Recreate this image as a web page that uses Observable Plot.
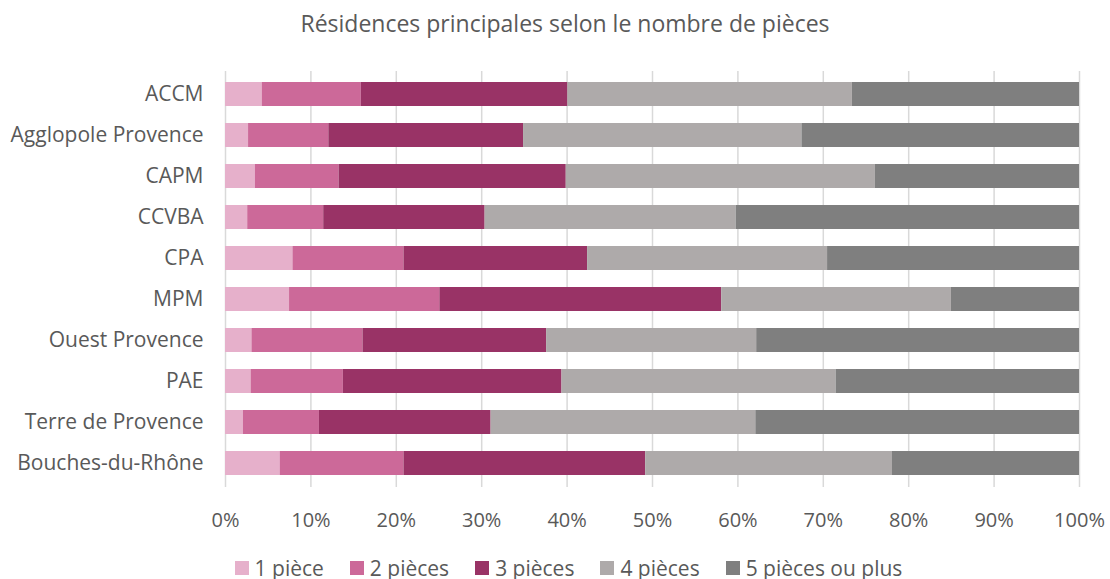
<!DOCTYPE html>
<html>
<head>
<meta charset="utf-8">
<script src="https://cdn.jsdelivr.net/npm/d3@7"></script>
<script src="https://cdn.jsdelivr.net/npm/@observablehq/plot@0.6"></script>
<style>
  html, body { margin: 0; padding: 0; background: #fff; overflow: hidden; }
  #wrap { position: relative; width: 1110px; height: 579px; font-family: "Open Sans", sans-serif; color: #595959; overflow: hidden; }
  #title { position: absolute; top: 7px; left: 0; width: 1130px; text-align: center; font-size: 23px; line-height: normal; white-space: nowrap; }
  #chart { position: absolute; top: 0; left: 0; }
  #legend { position: absolute; top: 554px; left: 0; width: 1137px; display: flex; justify-content: center; gap: 26px; font-size: 21px; line-height: normal; white-space: nowrap; }
  .item { display: flex; align-items: center; gap: 6px; }
  .sw { width: 14px; height: 14px; display: inline-block; }
</style>
</head>
<body>
<div id="wrap">
  <div id="title">Résidences principales selon le nombre de pièces</div>
  <div id="chart"></div>
  <div id="legend"></div>
</div>
<script>
const categories = ["ACCM", "Agglopole Provence", "CAPM", "CCVBA", "CPA", "MPM", "Ouest Provence", "PAE", "Terre de Provence", "Bouches-du-Rhône"];
const seriesNames = ["1 pièce", "2 pièces", "3 pièces", "4 pièces", "5 pièces ou plus"];
const p1 = [4.3, 2.7, 3.5, 2.6, 7.9, 7.5, 3.1, 3.0, 2.1, 6.4];
const p2 = [11.6, 9.4, 9.8, 8.9, 13.0, 17.6, 13.0, 10.8, 8.9, 14.5];
const p3 = [24.2, 22.8, 26.6, 18.9, 21.5, 33.0, 21.5, 25.6, 20.1, 28.3];
const p4 = [33.3, 32.6, 36.2, 29.4, 28.1, 26.9, 24.6, 32.1, 31.0, 28.9];
const p5 = [26.6, 32.5, 23.9, 40.2, 29.5, 15.0, 37.8, 28.5, 37.9, 21.9];
const xTicks = [0, 10, 20, 30, 40, 50, 60, 70, 80, 90, 100];
const colors = ["#e6b0cb", "#cc6999", "#993366", "#aeaaaa", "#7f7f7f"];

const seriesValues = [p1, p2, p3, p4, p5];
const data = [];
categories.forEach((c, i) => {
  seriesNames.forEach((s, j) => data.push({cat: c, series: s, value: seriesValues[j][i]}));
});

const chart = Plot.plot({
  width: 1110,
  height: 579,
  marginTop: 71,
  marginBottom: 92,
  marginLeft: 225,
  marginRight: 31,
  style: {fontFamily: "Open Sans, sans-serif", color: "#595959", background: "transparent", overflow: "visible"},
  x: {domain: [0, 100], ticks: xTicks, label: null},
  y: {domain: categories, paddingInner: 0.41, paddingOuter: 0.205, label: null},
  color: {domain: seriesNames, range: colors},
  marks: [
    Plot.gridX(xTicks, {stroke: "#d9d9d9", strokeOpacity: 1, strokeWidth: 1.5}),
    Plot.barX(data, Plot.stackX({x: "value", y: "cat", fill: "series", order: seriesNames})),
    Plot.axisX(xTicks, {tickSize: 0, tickPadding: 25, fontSize: 20, tickFormat: d => d + "%", fill: "#595959", label: null}),
    Plot.axisY({tickSize: 0, tickPadding: 22, fontSize: 21, fill: "#595959", label: null})
  ]
});
document.getElementById("chart").appendChild(chart);

const legend = document.getElementById("legend");
seriesNames.forEach((s, j) => {
  const it = document.createElement("div");
  it.className = "item";
  const sw = document.createElement("span");
  sw.className = "sw";
  sw.style.background = colors[j];
  const t = document.createElement("span");
  t.textContent = s;
  it.appendChild(sw);
  it.appendChild(t);
  legend.appendChild(it);
});
</script>
</body>
</html>
